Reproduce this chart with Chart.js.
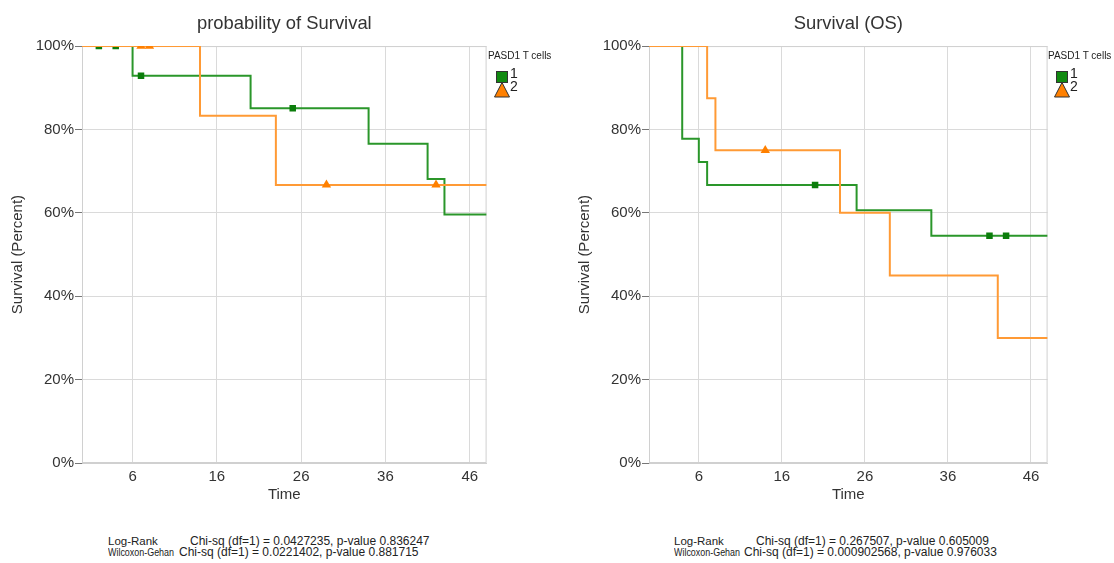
<!DOCTYPE html>
<html>
<head>
<meta charset="utf-8">
<title>Survival curves</title>
<script src="https://cdn.jsdelivr.net/npm/chart.js@4.4.1/dist/chart.umd.min.js"></script>
<style>
  html, body { margin: 0; padding: 0; background: #fff; overflow: hidden; }
  body { width: 1114px; height: 563px; position: relative; font-family: "Liberation Sans", Arial, sans-serif; color: #333; }
  canvas { position: absolute; top: 0; }
  .abs { position: absolute; white-space: nowrap; }
  .legend-title { font-size: 10px; line-height: 12px; color: #222; }
  .legend-num { font-size: 14px; line-height: 14px; color: #222; }
  .stats { font-size: 11.5px; line-height: 12px; color: #222; transform-origin: 0 50%; }
  .stats-val { font-size: 12px; line-height: 12px; color: #222; }
</style>
</head>
<body>
<canvas id="left-chart" width="492" height="510" style="left:0px"></canvas>
<canvas id="right-chart" width="486" height="510" style="left:567px"></canvas>
<div id="overlay"></div>

<script>
// Shared axis settings
const xMin = 0;
const xMax = 48;
const xTickValues = [6, 16, 26, 36, 46];
const legendTitle = 'PASD1 T cells';
const groupNames = ['1', '2'];

// Left panel: probability of Survival
const leftTitle = 'probability of Survival';
const leftG1Time = [0, 6, 20, 34, 41, 43, 48];
const leftG1Surv = [100, 92.9, 85.1, 76.6, 68.1, 59.6, 59.6];
const leftG1CensorTime = [2, 4, 7, 25];
const leftG1CensorSurv = [100, 100, 92.9, 85.1];
const leftG2Time = [0, 14, 23, 48];
const leftG2Surv = [100, 83.3, 66.7, 66.7];
const leftG2CensorTime = [7, 8, 29, 42];
const leftG2CensorSurv = [100, 100, 66.7, 66.7];
const leftStats = [
  ['Log-Rank', 'Chi-sq (df=1) = 0.0427235, p-value 0.836247'],
  ['Wilcoxon-Gehan', 'Chi-sq (df=1) = 0.0221402, p-value 0.881715']
];

// Right panel: Survival (OS)
const rightTitle = 'Survival (OS)';
const rightG1Time = [0, 4, 6, 7, 25, 34, 48];
const rightG1Surv = [100, 77.8, 72.2, 66.7, 60.6, 54.5, 54.5];
const rightG1CensorTime = [20, 41, 43];
const rightG1CensorSurv = [66.7, 54.5, 54.5];
const rightG2Time = [0, 7, 8, 23, 29, 42, 48];
const rightG2Surv = [100, 87.5, 75, 60, 45, 30, 30];
const rightG2CensorTime = [14];
const rightG2CensorSurv = [75];
const rightStats = [
  ['Log-Rank', 'Chi-sq (df=1) = 0.267507, p-value 0.605009'],
  ['Wilcoxon-Gehan', 'Chi-sq (df=1) = 0.000902568, p-value 0.976033']
];

const GREEN_LINE = '#2a962a';
const GREEN_MARK = '#0b7d0b';
const ORANGE_LINE = '#ff9a35';
const ORANGE_MARK = '#ff8000';
const GRID = '#dadada';
const FONT = '"Liberation Sans", Arial, sans-serif';

const toPoints = (xs, ys) => xs.map((x, i) => ({ x: x, y: ys[i] }));

// light frame round the plot area
const frameBox = {
  id: 'frameBox',
  beforeDatasetsDraw(chart) {
    const a = chart.chartArea;
    const ctx = chart.ctx;
    ctx.save();
    ctx.strokeStyle = '#d0d0d0';
    ctx.lineWidth = 1;
    ctx.strokeRect(a.left + 0.5, a.top + 0.5, a.right - a.left - 1, a.bottom - a.top - 1);
    ctx.restore();
  }
};

function makeChart(id, title, g1, g2) {
  const ctx = document.getElementById(id).getContext('2d');
  return new Chart(ctx, {
    type: 'line',
    data: {
      datasets: [
        {
          data: toPoints(g1.time, g1.surv),
          stepped: true,
          borderColor: GREEN_LINE,
          borderWidth: 2,
          pointRadius: 0,
          fill: false,
          order: 4
        },
        {
          data: toPoints(g1.censorTime, g1.censorSurv),
          showLine: false,
          pointStyle: 'rect',
          pointRadius: 4.6,
          pointBackgroundColor: GREEN_MARK,
          pointBorderWidth: 0,
          order: 3
        },
        {
          data: toPoints(g2.time, g2.surv),
          stepped: true,
          borderColor: ORANGE_LINE,
          borderWidth: 2,
          pointRadius: 0,
          fill: false,
          order: 2
        },
        {
          data: toPoints(g2.censorTime, g2.censorSurv),
          showLine: false,
          pointStyle: 'triangle',
          pointRadius: 5.4,
          pointBackgroundColor: ORANGE_MARK,
          pointBorderWidth: 0,
          order: 1
        }
      ]
    },
    options: {
      responsive: false,
      animation: false,
      events: [],
      layout: { padding: 0 },
      plugins: {
        legend: { display: false },
        tooltip: { enabled: false },
        title: {
          display: true,
          text: title,
          fullSize: false,
          color: '#333',
          font: { family: FONT, size: 18.4, weight: 'normal' },
          padding: { top: 13, bottom: 11 }
        }
      },
      scales: {
        x: {
          type: 'linear',
          min: xMin,
          max: xMax,
          afterBuildTicks: s => { s.ticks = xTickValues.map(v => ({ value: v })); },
          afterFit: s => { s.height = 47; },
          ticks: {
            autoSkip: false,
            maxRotation: 0,
            padding: 5,
            color: '#333',
            font: { family: FONT, size: 15 }
          },
          grid: { color: GRID, drawTicks: false },
          border: { color: '#d0d0d0' },
          title: {
            display: true,
            text: 'Time',
            color: '#333',
            font: { family: FONT, size: 15 },
            padding: { top: 0, bottom: 6 }
          }
        },
        y: {
          min: 0,
          max: 100,
          afterFit: s => { s.width = 82; },
          ticks: {
            stepSize: 20,
            padding: 1,
            color: '#333',
            font: { family: FONT, size: 15 },
            callback: v => v + '%'
          },
          grid: { color: GRID, tickColor: '#777', tickLength: 7 },
          border: { color: '#c4c4c4' },
          title: {
            display: true,
            text: 'Survival (Percent)',
            color: '#333',
            font: { family: FONT, size: 15 },
            padding: { top: 9, bottom: 0 }
          }
        }
      }
    },
    plugins: [frameBox]
  });
}

makeChart('left-chart', leftTitle,
  { time: leftG1Time, surv: leftG1Surv, censorTime: leftG1CensorTime, censorSurv: leftG1CensorSurv },
  { time: leftG2Time, surv: leftG2Surv, censorTime: leftG2CensorTime, censorSurv: leftG2CensorSurv });

makeChart('right-chart', rightTitle,
  { time: rightG1Time, surv: rightG1Surv, censorTime: rightG1CensorTime, censorSurv: rightG1CensorSurv },
  { time: rightG2Time, surv: rightG2Surv, censorTime: rightG2CensorTime, censorSurv: rightG2CensorSurv });

// Legend and test statistics (plain HTML beside each plot)
const overlay = document.getElementById('overlay');

function addText(cls, text, left, top) {
  const el = document.createElement('div');
  el.className = 'abs ' + cls;
  el.style.left = left + 'px';
  el.style.top = top + 'px';
  el.textContent = text;
  overlay.appendChild(el);
  return el;
}

function addLegend(x) {
  addText('legend-title', legendTitle, x, 50);
  const svgNS = 'http://www.w3.org/2000/svg';
  const svg = document.createElementNS(svgNS, 'svg');
  svg.setAttribute('width', '20');
  svg.setAttribute('height', '30');
  svg.style.position = 'absolute';
  svg.style.left = (x + 5) + 'px';
  svg.style.top = '69px';
  const sq = document.createElementNS(svgNS, 'rect');
  sq.setAttribute('x', '3.5'); sq.setAttribute('y', '2.5');
  sq.setAttribute('width', '11'); sq.setAttribute('height', '11');
  sq.setAttribute('fill', '#118a11'); sq.setAttribute('stroke', '#333'); sq.setAttribute('stroke-width', '1');
  svg.appendChild(sq);
  const tri = document.createElementNS(svgNS, 'polygon');
  tri.setAttribute('points', '9,13.5 16.5,28 1.5,28');
  tri.setAttribute('fill', '#ff8000'); tri.setAttribute('stroke', '#333'); tri.setAttribute('stroke-width', '1');
  svg.appendChild(tri);
  overlay.appendChild(svg);
  addText('legend-num', groupNames[0], x + 22, 66);
  addText('legend-num', groupNames[1], x + 22, 79);
}

// the test names are set narrow in the source, so squeeze each one to its slot
const statLabelWidths = [50, 66];

function addStats(rows, x, valueXs) {
  rows.forEach((row, i) => {
    const label = addText('stats', row[0], x, 535 + i * 11);
    const w = label.getBoundingClientRect().width;
    if (w > statLabelWidths[i]) label.style.transform = 'scaleX(' + (statLabelWidths[i] / w) + ')';
    addText('stats-val', row[1], valueXs[i], 535 + i * 11);
  });
}

addLegend(488);
addLegend(1048);
addStats(leftStats, 108, [190, 179]);
addStats(rightStats, 674, [756, 744]);
</script>
</body>
</html>
